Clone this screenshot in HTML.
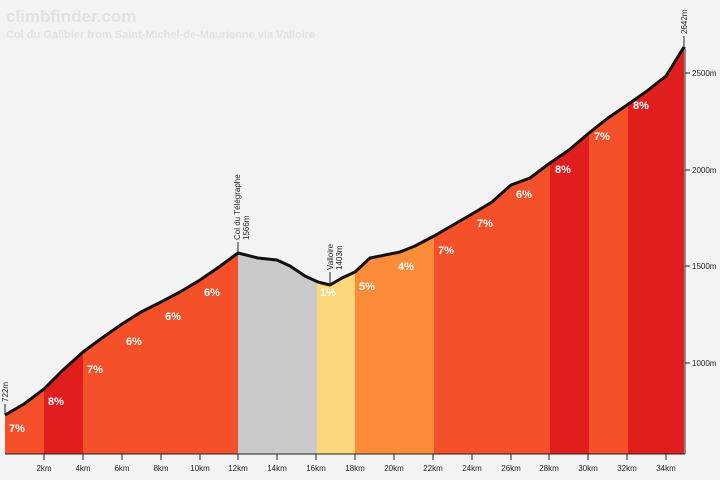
<!DOCTYPE html>
<html><head><meta charset="utf-8"><style>
html,body{margin:0;padding:0;background:#f3f3f3;}
svg{display:block;font-family:"Liberation Sans",sans-serif;}
</style></head><body>
<svg width="720" height="480" viewBox="0 0 720 480">
<rect width="720" height="480" fill="#f3f3f3"/>
<text x="6" y="22" font-size="17" font-weight="bold" fill="#e2e2e2">climbfinder.com</text>
<text x="6" y="38" font-size="11" font-weight="bold" fill="#e2e2e2">Col du Galibier from Saint-Michel-de-Maurienne via Valloire</text>
<defs><clipPath id="c"><path d="M5,415 L24,404 L44,389 L63,370 L83,352 L102,338 L122,324 L141,312 L161,302 L180,292 L200,280 L219,267 L238,253 L258,258 L277,260 L290,266 L305,276 L318,282 L330,285 L342,278 L355,272 L370,258 L385,255 L400,252 L415,246 L434,236 L453,225 L472,214 L492,202 L511,185 L530,178 L550,163 L569,150 L589,133 L608,118 L627,105 L647,91 L666,76 L684,47 L684,454 L5,454 Z"/></clipPath></defs>
<g clip-path="url(#c)">
<rect x="5" y="0" width="39" height="454" fill="#f4502a"/>
<rect x="44" y="0" width="39" height="454" fill="#e01e1e"/>
<rect x="83" y="0" width="156" height="454" fill="#f4502a"/>
<rect x="238" y="0" width="79" height="454" fill="#c9c9c9"/>
<rect x="317" y="0" width="39" height="454" fill="#fcd87a"/>
<rect x="355" y="0" width="79" height="454" fill="#fd8c3a"/>
<rect x="434" y="0" width="117" height="454" fill="#f4502a"/>
<rect x="550" y="0" width="40" height="454" fill="#e01e1e"/>
<rect x="589" y="0" width="40" height="454" fill="#f4502a"/>
<rect x="628" y="0" width="57" height="454" fill="#e01e1e"/>
</g>
<path d="M5,415 L24,404 L44,389 L63,370 L83,352 L102,338 L122,324 L141,312 L161,302 L180,292 L200,280 L219,267 L238,253 L258,258 L277,260 L290,266 L305,276 L318,282 L330,285 L342,278 L355,272 L370,258 L385,255 L400,252 L415,246 L434,236 L453,225 L472,214 L492,202 L511,185 L530,178 L550,163 L569,150 L589,133 L608,118 L627,105 L647,91 L666,76 L684,47" fill="none" stroke="#111" stroke-width="3" stroke-linejoin="round"/>
<g font-size="11" font-weight="bold" fill="#fff">
<text x="9" y="432">7%</text><text x="48" y="405">8%</text><text x="87" y="373">7%</text>
<text x="126" y="345">6%</text><text x="165" y="320">6%</text><text x="204" y="296">6%</text>
<text x="320" y="296">1%</text><text x="359" y="290">5%</text><text x="398" y="270">4%</text>
<text x="438" y="254">7%</text><text x="477" y="227">7%</text><text x="516" y="198">6%</text>
<text x="555" y="173">8%</text><text x="594" y="140">7%</text><text x="633" y="109">8%</text>
</g>
<line x1="5" y1="454" x2="685" y2="454" stroke="#222" stroke-width="1"/>
<g stroke="#222" stroke-width="1">
<line x1="44" y1="454" x2="44" y2="460"/><line x1="83" y1="454" x2="83" y2="460"/><line x1="122" y1="454" x2="122" y2="460"/><line x1="161" y1="454" x2="161" y2="460"/><line x1="200" y1="454" x2="200" y2="460"/><line x1="238" y1="454" x2="238" y2="460"/><line x1="277" y1="454" x2="277" y2="460"/><line x1="316" y1="454" x2="316" y2="460"/><line x1="355" y1="454" x2="355" y2="460"/><line x1="394" y1="454" x2="394" y2="460"/><line x1="433" y1="454" x2="433" y2="460"/><line x1="472" y1="454" x2="472" y2="460"/><line x1="511" y1="454" x2="511" y2="460"/><line x1="549" y1="454" x2="549" y2="460"/><line x1="588" y1="454" x2="588" y2="460"/><line x1="627" y1="454" x2="627" y2="460"/><line x1="666" y1="454" x2="666" y2="460"/>
<line x1="685" y1="47" x2="685" y2="454"/>
<line x1="685" y1="73" x2="690" y2="73"/><line x1="685" y1="170" x2="690" y2="170"/><line x1="685" y1="266" x2="690" y2="266"/><line x1="685" y1="363" x2="690" y2="363"/>
<line x1="5" y1="404" x2="5" y2="415"/><line x1="238" y1="242" x2="238" y2="253"/><line x1="330" y1="272" x2="330" y2="285"/><line x1="684" y1="36" x2="684" y2="47"/>
</g>
<g font-size="8" fill="#222" text-anchor="middle">
<text x="44" y="471">2km</text><text x="83" y="471">4km</text><text x="122" y="471">6km</text><text x="161" y="471">8km</text><text x="200" y="471">10km</text><text x="238" y="471">12km</text><text x="277" y="471">14km</text><text x="316" y="471">16km</text><text x="355" y="471">18km</text><text x="394" y="471">20km</text><text x="433" y="471">22km</text><text x="472" y="471">24km</text><text x="511" y="471">26km</text><text x="549" y="471">28km</text><text x="588" y="471">30km</text><text x="627" y="471">32km</text><text x="666" y="471">34km</text>
</g>
<g font-size="8" fill="#222">
<text x="692" y="76">2500m</text><text x="692" y="173">2000m</text><text x="692" y="269">1500m</text><text x="692" y="366">1000m</text>
</g>
<g font-size="8" fill="#222">
<text transform="translate(8,402) rotate(-90)">722m</text>
<text transform="translate(240,240) rotate(-90)">Col du Télégraphe</text>
<text transform="translate(249,240) rotate(-90)">1566m</text>
<text transform="translate(333,270) rotate(-90)">Valloire</text>
<text transform="translate(342,270) rotate(-90)">1403m</text>
<text transform="translate(687,34) rotate(-90)">2642m</text>
</g>
</svg>
</body></html>
